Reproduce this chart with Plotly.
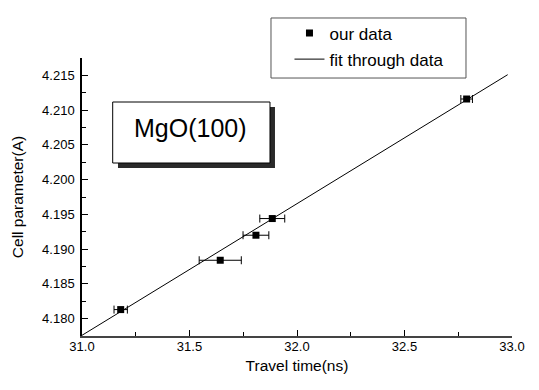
import plotly.graph_objects as go

# Data
travel_time = [31.18, 31.643, 31.809, 31.885, 32.789]
cell_param = [4.1813, 4.1884, 4.1920, 4.1944, 4.2116]
time_err = [0.031, 0.098, 0.060, 0.058, 0.027]

fit_x = [31.0, 32.98]
fit_y = [4.1776, 4.2151]

FONT = "Liberation Sans, Arial, sans-serif"

fig = go.Figure()
fig.add_trace(go.Scatter(
    x=travel_time, y=cell_param, mode="markers", name="our data",
    legendgroup="a",
    marker=dict(symbol="square", size=7, color="black"),
    error_x=dict(type="data", array=time_err, color="black", thickness=1, width=4),
))
fig.add_trace(go.Scatter(
    x=fit_x, y=fit_y, mode="lines", name="fit through data",
    legendgroup="b",
    line=dict(color="black", width=1),
))

# legend frame
fig.add_shape(type="rect", xref="paper", yref="paper",
              x0=0.4395, x1=0.893, y0=0.928, y1=1.1439,
              fillcolor="white", line=dict(color="#555", width=1), layer="below")

# MgO label box with shadow
fig.add_shape(type="rect", xref="paper", yref="paper",
              x0=0.0837, x1=0.4488, y0=0.6043, y1=0.8237,
              fillcolor="#2a2a2a", line=dict(width=0))
fig.add_shape(type="rect", xref="paper", yref="paper",
              x0=0.0714, x1=0.4372, y0=0.6223, y1=0.8417,
              fillcolor="white", line=dict(color="black", width=1))
fig.add_annotation(text="MgO(100)", xref="paper", yref="paper",
                   x=0.2520, y=0.7490, xanchor="center", yanchor="middle",
                   showarrow=False,
                   font=dict(size=25, color="black", family=FONT))

fig.update_layout(
    width=531, height=382,
    margin=dict(l=74, r=27, t=50, b=54, autoexpand=False),
    paper_bgcolor="white", plot_bgcolor="white",
    font=dict(family=FONT, color="black"),
    showlegend=True,
    legend=dict(x=0.4825, y=1.153, xanchor="left", yanchor="top",
                borderwidth=0, bgcolor="rgba(0,0,0,0)", tracegroupgap=1,
                font=dict(size=17, family=FONT)),
    xaxis=dict(range=[31.0, 33.0], tick0=31.0, dtick=0.5, tickformat=".1f",
               showgrid=False, zeroline=False, showline=True, automargin=False,
               linecolor="#444", linewidth=1.5, ticks="inside", ticklen=6,
               tickcolor="black", tickfont=dict(size=13), ticklabelstandoff=-2,
               minor=dict(dtick=0.25, ticks="inside", ticklen=4, tickcolor="black"),
               title=dict(text="Travel time(ns)", font=dict(size=15.5), standoff=7)),
    yaxis=dict(range=[4.1775, 4.2175], tick0=4.18, dtick=0.005, tickformat=".3f",
               showgrid=False, zeroline=False, showline=True, automargin=False,
               linecolor="black", linewidth=1.5, ticks="inside", ticklen=6,
               tickcolor="black", tickfont=dict(size=13), ticklabelstandoff=3,
               minor=dict(dtick=0.0025, ticks="inside", ticklen=4, tickcolor="black"),
               title=dict(text="Cell parameter(A)", font=dict(size=15.5), standoff=15)),
)

fig.write_html("out.html")
